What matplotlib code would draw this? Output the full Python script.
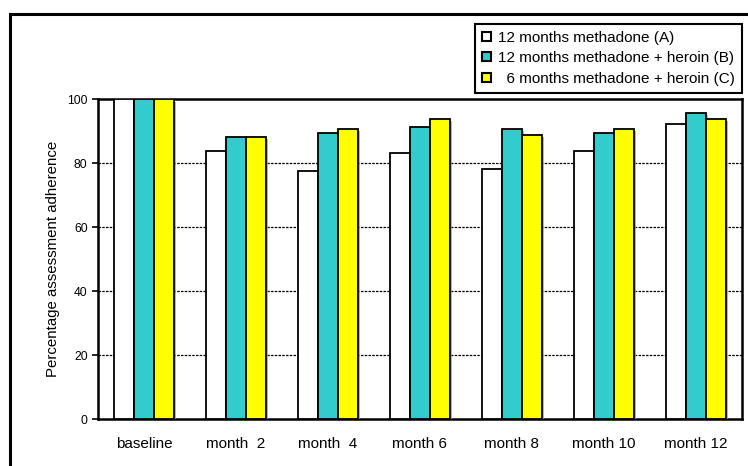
import numpy as np
import matplotlib
matplotlib.use("Agg")
import matplotlib.pyplot as plt
import matplotlib.patheffects as pe
from matplotlib.patches import Rectangle

plt.rcParams['font.family'] = ['Liberation Sans', 'DejaVu Sans']

categories = ['baseline', 'month  2', 'month  4', 'month 6', 'month 8', 'month 10', 'month 12']
series_names = ['12 months methadone (A)', '12 months methadone + heroin (B)', '  6 months methadone + heroin (C)']
group_a = [100, 83.9, 77.7, 83.3, 78.3, 84.0, 92.2]
group_b = [100, 88.3, 89.6, 91.5, 90.8, 89.6, 95.9]
group_c = [100, 88.3, 90.9, 93.9, 89.0, 90.9, 93.9]
colors = ['#FFFFFF', '#33CCCC', '#FFFF00']

W, H = 748, 466
fig = plt.figure(figsize=(W / 100, H / 100), dpi=100)
ax = fig.add_axes([98 / W, (H - 419) / H, 644 / W, 319.5 / H])

x = np.arange(len(categories))
width = 0.22
shadow = [pe.SimplePatchShadow(offset=(1.5, -1.5), shadow_rgbFace='#999999', alpha=0.7), pe.Normal()]
for i, (vals, col) in enumerate(zip([group_a, group_b, group_c], colors)):
    bars = ax.bar(x + (i - 1) * width, vals, width, color=col, edgecolor='black',
                  linewidth=1.3, label=series_names[i], zorder=3)
    for b in bars:
        b.set_path_effects(shadow)

ax.set_xlim(-0.5, len(categories) - 0.5)
ax.set_ylim(0, 100)
ax.set_yticks([0, 20, 40, 60, 80, 100])
ax.set_xticks(x)
ax.set_xticklabels(categories, fontsize=11)
ax.tick_params(axis='x', length=0, pad=13)
ax.tick_params(axis='y', labelsize=8.7, length=4, width=1.2, direction='out')
for g in [20, 40, 60, 80]:
    ax.axhline(g, color='black', linestyle=(0, (2, 1)), linewidth=0.9, zorder=1)
for s in ax.spines.values():
    s.set_linewidth(1.8)
ax.set_ylabel('Percentage assessment adherence', fontsize=10.8, labelpad=5)

leg = fig.legend(loc='upper right', bbox_to_anchor=(742 / W, 1 - 24 / H), fontsize=11,
                 handlelength=0.55, handleheight=0.55, handletextpad=0.5,
                 borderpad=0.45, labelspacing=0.42, fancybox=False, framealpha=1,
                 edgecolor='black', borderaxespad=0)
leg.get_frame().set_linewidth(1.5)
for h in leg.legend_handles:
    h.set_path_effects([])
    h.set_linewidth(1.5)

fig.patches.append(Rectangle((10 / W, -0.05), 1.0, 1 - 14 / H + 0.05, transform=fig.transFigure,
                             fill=False, edgecolor='black', linewidth=2.2, zorder=0))

fig.savefig('out.png', dpi=100)
